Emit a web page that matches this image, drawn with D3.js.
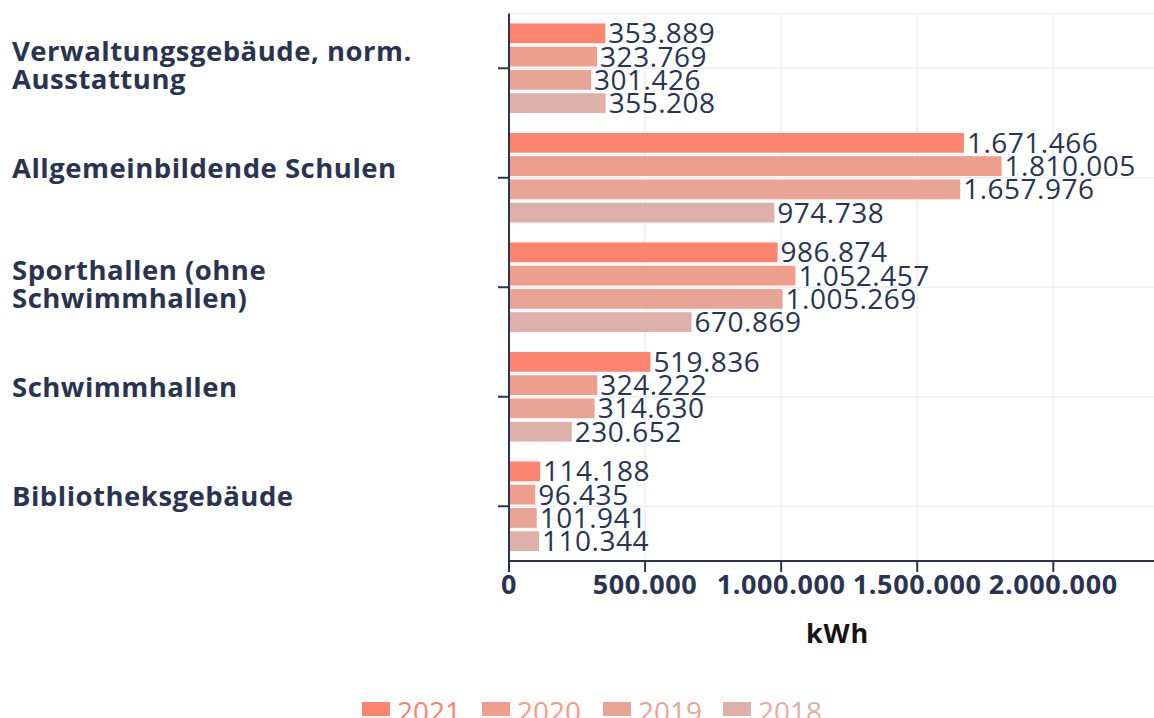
<!DOCTYPE html>
<html>
<head>
<meta charset="utf-8">
<script src="https://cdn.jsdelivr.net/npm/d3@7"></script>
<style>
  body { margin: 0; background: #fff; }
  #chart { width: 1154px; height: 718px; overflow: hidden; }
</style>
</head>
<body>
<div id="chart"></div>
<script>
const categories = [
  ['Verwaltungsgebäude, norm.', 'Ausstattung'],
  ['Allgemeinbildende Schulen'],
  ['Sporthallen (ohne', 'Schwimmhallen)'],
  ['Schwimmhallen'],
  ['Bibliotheksgebäude']
];
const years = ['2021', '2020', '2019', '2018'];
const values2021 = [353889, 1671466, 986874, 519836, 114188];
const values2020 = [323769, 1810005, 1052457, 324222, 96435];
const values2019 = [301426, 1657976, 1005269, 314630, 101941];
const values2018 = [355208, 974738, 670869, 230652, 110344];
const xTicks = [0, 500000, 1000000, 1500000, 2000000];
const xMax = 2370000;

const colors = ['#ff8470', '#ef9d8c', '#e8a495', '#ddb1a9'];
const series = [values2021, values2020, values2019, values2018];

const width = 1154;
const height = 718;
const plot = { left: 509, right: 1154, top: 13.5, bottom: 561 };
const textColor = '#2a3450';

const fmt = d3.formatLocale({ decimal: ',', thousands: '.', grouping: [3], currency: ['', '€'] }).format(',d');

const svg = d3.select('#chart').append('svg')
  .attr('width', width)
  .attr('height', height)
  .style('font-family', '"Open Sans", sans-serif');

const catKeys = categories.map((c, i) => i);

const x = d3.scaleLinear().domain([0, xMax]).range([plot.left, plot.right]);
const y = d3.scaleBand().domain(catKeys).range([plot.top, plot.bottom]).padding(0);
const yInner = d3.scaleBand().domain(years)
  .range([y.bandwidth() * 0.075, y.bandwidth() * 0.925])
  .paddingInner(0.15)
  .paddingOuter(0.075);

// gridlines
svg.append('line')
  .attr('x1', plot.left).attr('x2', plot.right)
  .attr('y1', plot.top).attr('y2', plot.top)
  .attr('stroke', '#eeeeee').attr('stroke-width', 1.5);

svg.append('g')
  .selectAll('line')
  .data(xTicks.slice(1))
  .join('line')
  .attr('x1', d => x(d)).attr('x2', d => x(d))
  .attr('y1', plot.top).attr('y2', plot.bottom)
  .attr('stroke', '#eeeeee').attr('stroke-width', 1.5);

svg.append('g')
  .selectAll('line')
  .data(catKeys)
  .join('line')
  .attr('x1', plot.left).attr('x2', plot.right)
  .attr('y1', d => y(d) + y.bandwidth() / 2).attr('y2', d => y(d) + y.bandwidth() / 2)
  .attr('stroke', '#eeeeee').attr('stroke-width', 1.5);

// bars
series.forEach((vals, si) => {
  const g = svg.append('g');
  g.selectAll('rect')
    .data(vals)
    .join('rect')
    .attr('x', x(0) + 1)
    .attr('y', (d, i) => y(i) + yInner(years[si]))
    .attr('width', d => x(d) - x(0) - 1)
    .attr('height', yInner.bandwidth())
    .attr('fill', colors[si]);
});

// value labels
series.forEach((vals, si) => {
  svg.append('g')
    .selectAll('text')
    .data(vals)
    .join('text')
    .attr('x', d => x(d) + 3)
    .attr('y', (d, i) => y(i) + yInner(years[si]) + yInner.bandwidth() / 2)
    .attr('dy', '0.36em')
    .attr('font-size', 28)
    .attr('letter-spacing', 0.5)
    .attr('fill', textColor)
    .text(d => fmt(d));
});

// y axis line + ticks
svg.append('line')
  .attr('x1', plot.left).attr('x2', plot.left)
  .attr('y1', plot.top).attr('y2', plot.bottom)
  .attr('stroke', textColor).attr('stroke-width', 2);

svg.append('g')
  .selectAll('line')
  .data(catKeys)
  .join('line')
  .attr('x1', plot.left - 11).attr('x2', plot.left)
  .attr('y1', d => y(d) + y.bandwidth() / 2).attr('y2', d => y(d) + y.bandwidth() / 2)
  .attr('stroke', textColor).attr('stroke-width', 2);

// category labels
const catG = svg.append('g');
categories.forEach((lines, i) => {
  const cy = y(i) + y.bandwidth() / 2;
  const t = catG.append('text')
    .attr('x', 12)
    .attr('font-size', 27.5)
    .attr('font-weight', 700)
    .attr('letter-spacing', 0.5)
    .attr('fill', textColor);
  lines.forEach((ln, li) => {
    const base = lines.length === 1 ? cy : cy - 7 + li * 27.5;
    t.append('tspan')
      .attr('x', 12)
      .attr('y', base)
      .text(ln);
  });
});

// x axis
svg.append('line')
  .attr('x1', plot.left).attr('x2', plot.right)
  .attr('y1', plot.bottom).attr('y2', plot.bottom)
  .attr('stroke', textColor).attr('stroke-width', 2);

svg.append('g')
  .selectAll('line')
  .data(xTicks)
  .join('line')
  .attr('x1', d => x(d)).attr('x2', d => x(d))
  .attr('y1', plot.bottom).attr('y2', plot.bottom + 11)
  .attr('stroke', textColor).attr('stroke-width', 2);

svg.append('g')
  .selectAll('text')
  .data(xTicks)
  .join('text')
  .attr('x', d => x(d))
  .attr('y', 594)
  .attr('text-anchor', 'middle')
  .attr('font-size', 27)
  .attr('font-weight', 700)
  .attr('letter-spacing', 0.6)
  .attr('fill', textColor)
  .text(d => fmt(d));

svg.append('text')
  .attr('x', (plot.left + plot.right) / 2 + 6)
  .attr('y', 643)
  .attr('text-anchor', 'middle')
  .attr('font-size', 27)
  .attr('font-weight', 700)
  .attr('letter-spacing', 0.8)
  .attr('fill', '#151515')
  .text('kWh');

// legend
const legendX = [362, 482, 603, 723];
const legend = svg.append('g');
years.forEach((yr, i) => {
  legend.append('rect')
    .attr('x', legendX[i]).attr('y', 702)
    .attr('width', 28).attr('height', 14)
    .attr('fill', colors[i]);
  legend.append('text')
    .attr('x', legendX[i] + 35).attr('y', 722)
    .attr('font-size', 28)
    .attr('fill', colors[i])
    .text(yr);
});
</script>
</body>
</html>
